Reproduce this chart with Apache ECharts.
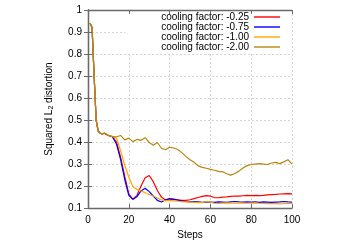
<!DOCTYPE html>
<html>
<head>
<meta charset="utf-8">
<script src="https://cdn.jsdelivr.net/npm/echarts@6/dist/echarts.min.js"></script>
<style>
  html, body { margin: 0; padding: 0; background: #fff; }
  #chart { width: 350px; height: 245px; }
</style>
</head>
<body>
<div id="chart"></div>
<script>
// steps (x values)
const steps = [1, 2, 3, 4, 5, 6, 7, 8, 10, 12, 14, 16, 18, 20, 22, 24, 26, 28, 30, 32, 34, 36, 38, 40,
  42, 44, 46, 48, 50, 52, 54, 56, 58, 60, 62, 64, 66, 68, 70, 72, 74, 76, 78, 80, 82, 84, 86, 88, 90,
  92, 94, 96, 98, 100];

// squared L2 distortion, one array per cooling factor
const cool025 = [0.94, 0.92, 0.70, 0.50, 0.45, 0.44, 0.437, 0.44, 0.43,
  0.424, 0.40, 0.33, 0.245, 0.165, 0.14, 0.158, 0.20, 0.238, 0.248, 0.22, 0.18, 0.15, 0.137, 0.14,
  0.141, 0.138, 0.135, 0.135, 0.138, 0.143, 0.148, 0.153, 0.157, 0.154, 0.148, 0.147, 0.15, 0.151, 0.153,
  0.155, 0.154, 0.156, 0.158, 0.157, 0.158, 0.157, 0.158, 0.16, 0.161, 0.162, 0.164, 0.165, 0.166, 0.165];
const cool075 = [0.94, 0.92, 0.70, 0.50, 0.45, 0.44, 0.437, 0.44, 0.43,
  0.424, 0.39, 0.32, 0.23, 0.158, 0.14, 0.152, 0.178, 0.19, 0.175, 0.155, 0.135, 0.128, 0.138, 0.143,
  0.14, 0.136, 0.133, 0.13, 0.128, 0.13, 0.128, 0.126, 0.128, 0.127, 0.126, 0.128, 0.127, 0.126, 0.128,
  0.13, 0.128, 0.127, 0.128, 0.127, 0.128, 0.126, 0.128, 0.127, 0.126, 0.127, 0.128, 0.13, 0.128, 0.127];
const cool100 = [0.94, 0.92, 0.70, 0.50, 0.45, 0.44, 0.437, 0.44, 0.43,
  0.426, 0.418, 0.36, 0.295, 0.24, 0.198, 0.185, 0.178, 0.17, 0.162, 0.155, 0.146, 0.137, 0.133, 0.135,
  0.133, 0.131, 0.129, 0.128, 0.127, 0.126, 0.125, 0.125, 0.13, 0.127, 0.122, 0.121, 0.123, 0.124, 0.123,
  0.122, 0.124, 0.123, 0.122, 0.123, 0.124, 0.122, 0.121, 0.12, 0.121, 0.12, 0.119, 0.121, 0.122, 0.12];
const cool200 = [0.94, 0.92, 0.70, 0.50, 0.45, 0.44, 0.437, 0.44, 0.43,
  0.425, 0.424, 0.43, 0.41, 0.418, 0.402, 0.412, 0.408, 0.42, 0.398, 0.386, 0.398, 0.372, 0.365, 0.376,
  0.373, 0.366, 0.352, 0.335, 0.32, 0.308, 0.292, 0.285, 0.281, 0.276, 0.272, 0.267, 0.265, 0.256, 0.25,
  0.257, 0.268, 0.282, 0.293, 0.298, 0.30, 0.302, 0.30, 0.298, 0.305, 0.308, 0.302, 0.31, 0.32, 0.30];

const seriesNames = ['cooling factor: -0.25', 'cooling factor: -0.75', 'cooling factor: -1.00', 'cooling factor: -2.00'];
const seriesColors = ['#ff0000', '#0000ff', '#ffa500', '#b8860b'];
const seriesValues = [cool025, cool075, cool100, cool200];

const font = 'Liberation Sans, Arial, sans-serif';
const frame = '#6a6a6a';

const chart = echarts.init(document.getElementById('chart'));

// mirrored axis (top / right), ticks only, drawn above the legend box
function mirror(base) {
  return Object.assign({
    z: 10,
    axisLine: { show: true, lineStyle: { color: frame, width: 1.3 } },
    axisTick: { show: true, inside: true, length: 4, lineStyle: { color: frame } },
    axisLabel: { show: false },
    splitLine: { show: false }
  }, base);
}

const option = {
  animation: false,
  grid: { left: 88, top: 10, right: 58, bottom: 32 },
  legend: {
    data: seriesNames,
    orient: 'vertical',
    align: 'right',
    right: 59,
    top: 11,
    padding: [1, 11, 1, 36],
    backgroundColor: '#fff',
    itemGap: 0,
    itemWidth: 26,
    itemHeight: 1.4,
    icon: 'path://M0,0 L26,0 L26,1.4 L0,1.4 Z',
    textStyle: { fontFamily: font, fontSize: 10, color: '#000', lineHeight: 10 }
  },
  xAxis: [
    {
      type: 'value', min: 0, max: 100, interval: 20,
      name: 'Steps', nameLocation: 'middle', nameGap: 19,
      nameTextStyle: { fontFamily: font, fontSize: 10, color: '#000' },
      axisLine: { show: true, lineStyle: { color: frame, width: 1.3 } },
      axisTick: { show: true, inside: true, length: 4, lineStyle: { color: frame } },
      axisLabel: { fontFamily: font, fontSize: 10, color: '#000', margin: 7 },
      splitLine: { show: true, lineStyle: { color: '#d4d4d4', type: [2, 2], width: 1 } }
    },
    mirror({ type: 'value', min: 0, max: 100, interval: 20, position: 'top' })
  ],
  yAxis: [
    {
      type: 'value', min: 0.1, max: 1, interval: 0.1,
      name: 'Squared L{sub|2} distortion', nameLocation: 'middle', nameGap: 33, nameRotate: 90,
      nameTextStyle: {
        fontFamily: font, fontSize: 10, color: '#000',
        rich: { sub: { fontFamily: font, fontSize: 7, color: '#000', padding: [5, 0, 0, 0] } }
      },
      axisLine: { show: true, lineStyle: { color: frame, width: 1.3 } },
      axisTick: { show: true, inside: true, length: 4, lineStyle: { color: frame } },
      axisLabel: {
        fontFamily: font, fontSize: 10, color: '#000', margin: 6,
        formatter: v => (Math.round(v * 10) / 10).toString()
      },
      splitLine: { show: true, lineStyle: { color: '#d4d4d4', type: [2, 2], width: 1 } }
    },
    mirror({ type: 'value', min: 0.1, max: 1, interval: 0.1, position: 'right' })
  ],
  series: seriesNames.map((name, i) => ({
    name: name,
    type: 'line',
    symbol: 'none',
    smooth: false,
    color: seriesColors[i],
    lineStyle: { width: 1.2, color: seriesColors[i] },
    data: steps.map((s, j) => [s, seriesValues[i][j]])
  }))
};

chart.setOption(option);
</script>
</body>
</html>
